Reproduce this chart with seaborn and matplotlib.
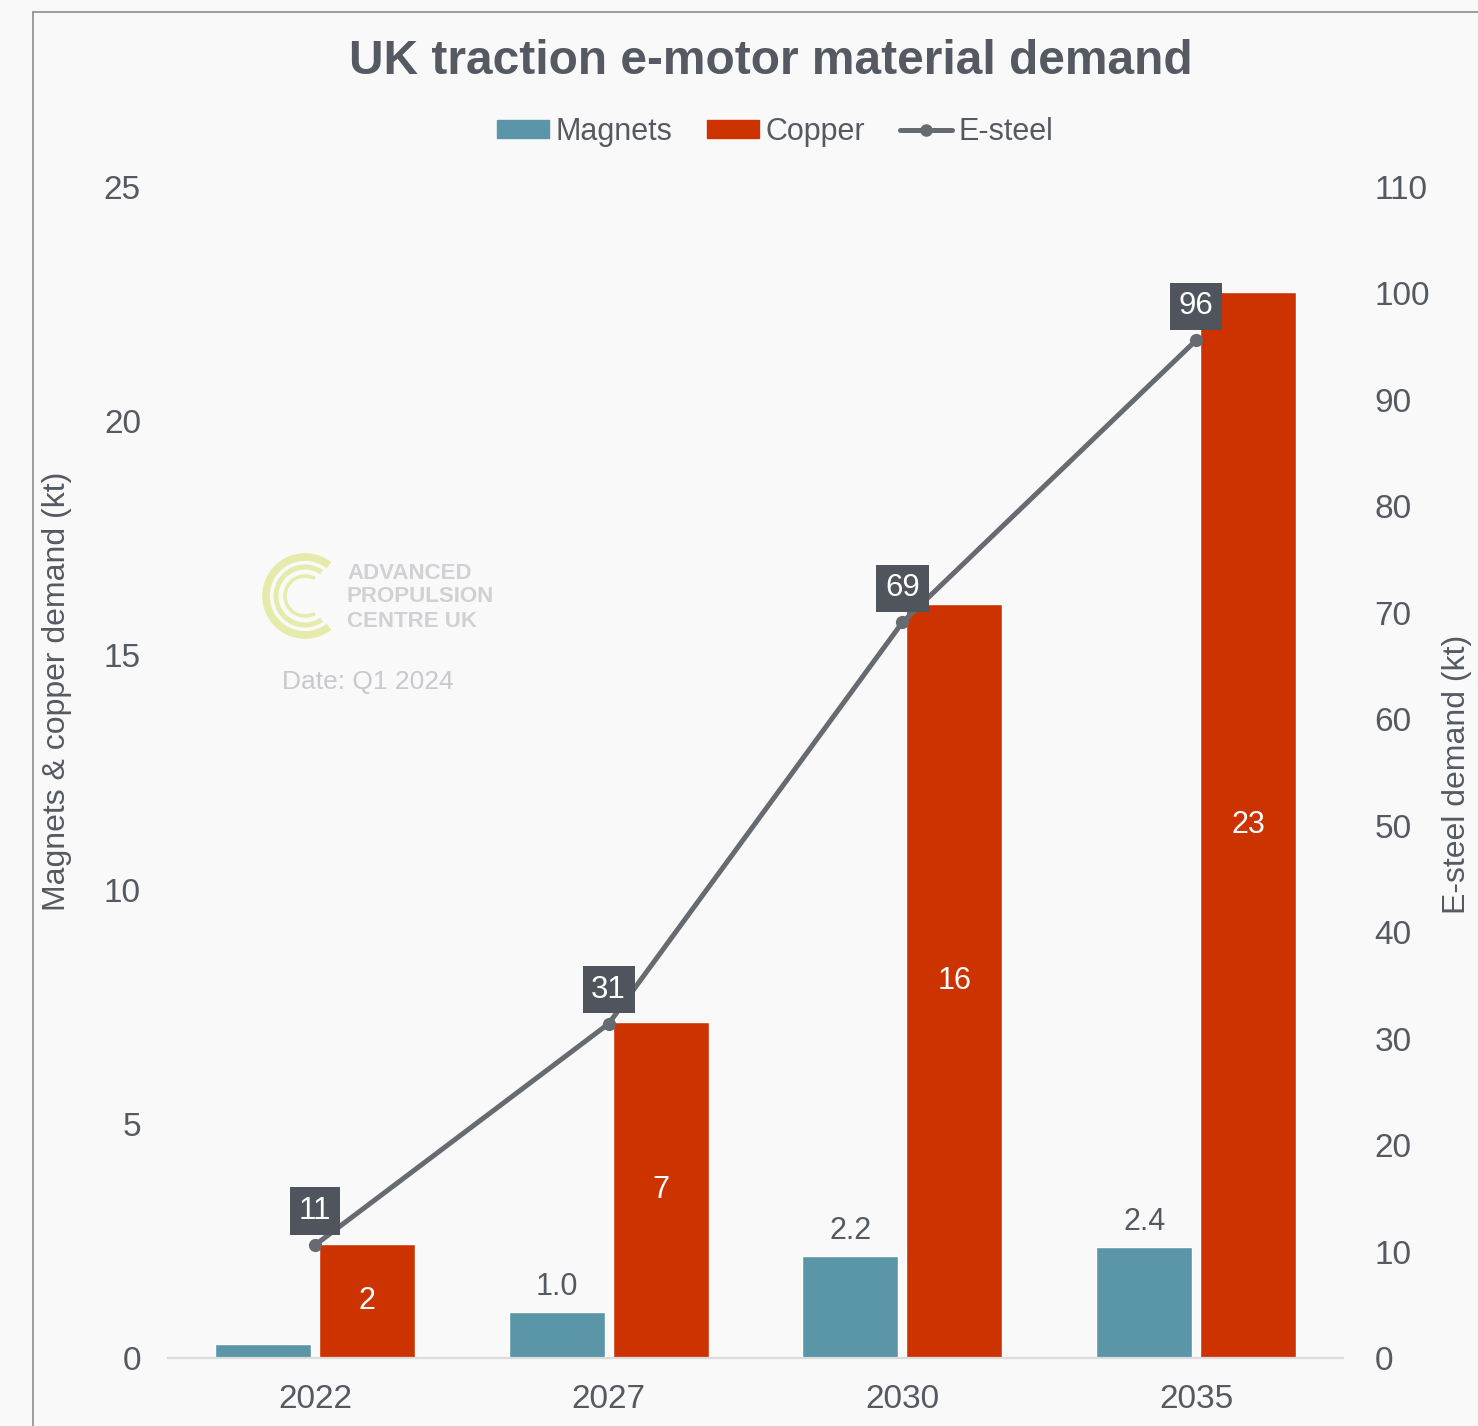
import matplotlib
matplotlib.use("Agg")
import matplotlib.pyplot as plt
import seaborn as sns
import pandas as pd
import numpy as np
from matplotlib.patches import Arc, Patch
from matplotlib.lines import Line2D

# Demand by year (kt)
years = ["2022", "2027", "2030", "2035"]
magnets = [0.3, 0.98, 2.17, 2.36]
copper = [2.43, 7.17, 16.1, 22.76]
esteel = [10.6, 31.4, 69.1, 95.6]
magnet_labels = ["", "1.0", "2.2", "2.4"]

BG = "#f9f9f9"
TEXT = "#555a62"
MAG = "#5a96a7"
COP = "#cc3300"
LINE = "#666a71"
BOX = "#50545c"

sns.set_theme(style="white")
plt.rcParams["font.family"] = ["Liberation Sans", "DejaVu Sans"]

W, H = 1478, 1426
fig = plt.figure(figsize=(W / 100, H / 100), dpi=100, facecolor=BG)


def px(x0, y0, x1, y1):
    return [x0 / W, 1 - y1 / H, (x1 - x0) / W, (y1 - y0) / H]


ax = fig.add_axes(px(168, 187, 1343, 1358))
ax.set_facecolor(BG)

df = pd.DataFrame({
    "year": years * 2,
    "material": ["Magnets"] * len(years) + ["Copper"] * len(years),
    "kt": magnets + copper,
})
sns.barplot(data=df, x="year", y="kt", hue="material", palette=[MAG, COP],
            width=0.708, gap=0.076, saturation=1, legend=False, ax=ax)

ax.set_xlim(-0.5, 3.5)
ax.set_ylim(0, 25)
ax.set_yticks(np.arange(0, 26, 5))
ax.set_xlabel("")
ax.set_ylabel("Magnets & copper demand (kt)", fontsize=23, color=TEXT)
ax.yaxis.set_label_coords(-0.0817, 0.569)
ax.tick_params(axis="both", length=0, labelsize=24, labelcolor=TEXT)
ax.tick_params(axis="x", pad=19)
ax.tick_params(axis="y", pad=19.5)
for side in ["left", "right", "top"]:
    ax.spines[side].set_visible(False)
ax.spines["bottom"].set_color("#dcdcdc")
ax.spines["bottom"].set_linewidth(1.6)

mag_bars, cop_bars = ax.containers[0], ax.containers[1]
for rect, lab in zip(mag_bars, magnet_labels):
    if lab:
        ax.annotate(lab, (rect.get_x() + rect.get_width() / 2, rect.get_height()),
                    xytext=(0, 18), textcoords="offset points",
                    ha="center", va="center", fontsize=22, color=TEXT)
for rect, val in zip(cop_bars, copper):
    ax.text(rect.get_x() + rect.get_width() / 2, val / 2, f"{val:.0f}",
            ha="center", va="center", fontsize=22, color="white")

# E-steel on the secondary axis
ax2 = ax.twinx()
sns.lineplot(x=np.arange(len(years)), y=esteel, ax=ax2, color=LINE, lw=3.6,
             marker="o", markersize=9.5, markeredgewidth=0)
ax2.set_ylim(0, 110)
ax2.set_yticks(np.arange(0, 111, 10))
ax2.set_xlim(-0.5, 3.5)
ax2.tick_params(axis="y", length=0, labelsize=24, labelcolor=TEXT, pad=22.5)
ax2.set_ylabel("E-steel demand (kt)", fontsize=23, color=TEXT)
ax2.yaxis.set_label_coords(1.084, 0.498)
for s in ax2.spines.values():
    s.set_visible(False)
for i, v in enumerate(esteel):
    ax2.annotate(f"{v:.0f}", (i, v), xytext=(0, 24.5), textcoords="offset points",
                 ha="center", va="center", fontsize=22.5, color="white",
                 bbox=dict(boxstyle="square,pad=0.28", fc=BOX, ec="none"))

# Title and legend
fig.text(771 / W, 1 - 62 / H, "UK traction e-motor material demand",
         ha="center", va="center", fontsize=34.5, fontweight="bold", color=TEXT)
handles = [Patch(color=MAG, label="Magnets"), Patch(color=COP, label="Copper"),
           Line2D([], [], color=LINE, lw=3.6, marker="o", markersize=8, label="E-steel")]
fig.legend(handles=handles, loc="center", bbox_to_anchor=(775 / W, 1 - 132 / H),
           ncol=3, frameon=False, fontsize=22, labelcolor=TEXT,
           handlelength=1.7, handleheight=0.5, handletextpad=0.2, columnspacing=1.15)

# Watermark logo
lax = fig.add_axes(px(255, 546, 355, 646))
lax.set_xlim(-50, 50)
lax.set_ylim(-50, 50)
lax.axis("off")
LOGO = "#e6ebac"
lax.add_patch(Arc((0, 0), 78, 78, theta1=52, theta2=308, lw=5.5, color=LOGO))
lax.add_patch(Arc((0, 0), 58, 58, theta1=55, theta2=305, lw=3.6, color=LOGO))
lax.add_patch(Arc((0, 0), 40, 40, theta1=60, theta2=300, lw=2.5, color=LOGO))
for yy, t in [(573, "ADVANCED"), (597, "PROPULSION"), (621, "CENTRE UK")]:
    fig.text(347 / W, 1 - yy / H, t, ha="left", va="center", fontsize=16,
             fontweight="bold", color="#d0d1d4")
fig.text(368 / W, 1 - 682 / H, "Date: Q1 2024", ha="center", va="center",
         fontsize=19, color="#c8c9cc")

# Outer frame
fig.add_artist(Line2D([33 / W, 33 / W], [0, 1 - 12 / H], transform=fig.transFigure,
                      color="#8c8c90", lw=1.2))
fig.add_artist(Line2D([33 / W, 1], [1 - 12 / H, 1 - 12 / H], transform=fig.transFigure,
                      color="#8c8c90", lw=1.2))

fig.savefig("out.png", dpi=100, facecolor=BG)
